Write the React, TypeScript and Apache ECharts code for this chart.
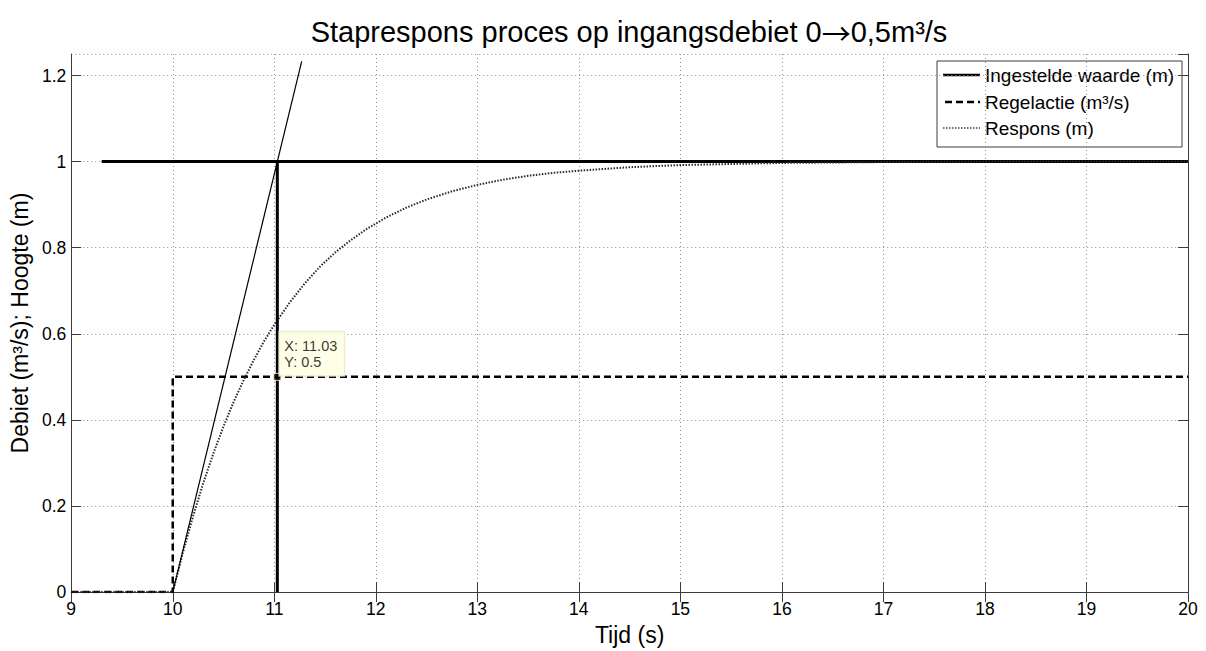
import React, { useEffect, useRef } from "react";
import * as echarts from "echarts";

const titlePart1 = "Staprespons proces op ingangsdebiet 0";
const titleArrow = "\u2192";
const titlePart2 = "0,5m\u00b3/s";
const xAxisName = "Tijd (s)";
const yAxisName = "Debiet (m\u00b3/s); Hoogte (m)";

const seriesNames = ["Ingestelde waarde (m)", "Regelactie (m\u00b3/s)", "Respons (m)"];

const setpointTime = [9.3, 20];
const setpointValue = [1, 1];

const regelTime = [9, 10, 10, 20];
const regelValue = [0, 0, 0.5, 0.5];

const responseTime = [9, 10, 10.1, 10.2, 10.3, 10.4, 10.5, 10.6, 10.7, 10.8, 10.9, 11, 11.15, 11.3, 11.45, 11.6, 11.75, 11.9, 12.1, 12.3, 12.5, 12.75, 13, 13.25, 13.5, 13.75, 14, 14.5, 15, 16, 17, 18, 19, 20];
const responseValue = [0, 0, 0.092, 0.176, 0.253, 0.322, 0.385, 0.442, 0.493, 0.540, 0.583, 0.621, 0.672, 0.717, 0.756, 0.789, 0.817, 0.842, 0.870, 0.893, 0.912, 0.931, 0.946, 0.958, 0.967, 0.974, 0.979, 0.987, 0.992, 0.997, 0.999, 1, 1, 1];

const tangentTime = [10, 11.27];
const tangentValue = [0, 1.233];

const markerTime = [11.03, 11.03];
const markerValue = [0, 1];

const tipX = 11.03;
const tipY = 0.5;

const xMin = 9, xMax = 20, xStep = 1;
const yMin = 0, yMax = 1.25, yStep = 0.2;

const zip = (a: number[], b: number[]) => a.map((v, i) => [v, b[i]]);

const FONT = "Liberation Sans, Arial, sans-serif";

export default function App() {
  const ref = useRef<HTMLDivElement>(null);
  useEffect(() => {
    if (!ref.current) return;
    const chart = echarts.init(ref.current, undefined, { renderer: "svg", width: 1206, height: 651 });
    const axisLine = { show: true, lineStyle: { color: "#3c3c3c", width: 1 } };
    const tick = { show: true, inside: true, length: 10, lineStyle: { color: "#3c3c3c" } };
    const legendX = 937, legendY = 61, legendW = 245, legendH = 86;
    const rows = [75, 102, 128];
    chart.setOption({
      animation: false,
      backgroundColor: "#ffffff",
      textStyle: { fontFamily: FONT },
      title: {
        text: `{a|${titlePart1}}{b|${titleArrow}}{a|${titlePart2}}`,
        left: 624,
        textAlign: "center",
        top: 12,
        textStyle: {
          fontFamily: FONT, fontSize: 29, fontWeight: "normal", color: "#000",
          rich: {
            a: { fontFamily: FONT, fontSize: 29, color: "#000" },
            b: { fontFamily: "Noto Sans CJK JP", fontSize: 29, color: "#000" },
          },
        },
      },
      grid: { left: 70, top: 54, width: 1118, height: 544, containLabel: false },
      xAxis: [
        {
          type: "value", min: xMin, max: xMax, interval: xStep,
          name: xAxisName, nameLocation: "middle", nameGap: 27,
          nameTextStyle: { fontFamily: FONT, fontSize: 23, color: "#000" },
          axisLine, axisTick: tick,
          axisLabel: { fontFamily: FONT, fontSize: 17.5, color: "#000", margin: 8 },
          splitLine: { show: true, lineStyle: { type: [1, 3], color: "#8c8c8c", width: 1 } },
        },
        {
          type: "value", min: xMin, max: xMax, interval: xStep, position: "top",
          axisLine, axisTick: tick, axisLabel: { show: false }, splitLine: { show: false },
        },
      ],
      yAxis: [
        {
          type: "value", min: yMin, max: yMax, interval: yStep,
          name: yAxisName, nameLocation: "middle", nameGap: 40,
          nameTextStyle: { fontFamily: FONT, fontSize: 23, color: "#000" },
          axisLine, axisTick: tick,
          axisLabel: { fontFamily: FONT, fontSize: 17.5, color: "#000", margin: 5, showMaxLabel: false,
            formatter: (v: number) => (Math.abs(v - yMax) < 1e-9 ? "" : String(Math.round(v * 10) / 10)) },
          splitLine: { show: true, lineStyle: { type: [1, 3], color: "#8c8c8c", width: 1 } },
        },
        {
          type: "value", min: yMin, max: yMax, interval: yStep, position: "right",
          axisLine, axisTick: tick, axisLabel: { show: false }, splitLine: { show: false },
        },
      ],
      series: [
        {
          name: seriesNames[0], type: "line", data: zip(setpointTime, setpointValue), symbol: "none",
          lineStyle: { color: "#000", width: 3 }, z: 3,
        },
        {
          name: seriesNames[1], type: "line", data: zip(regelTime, regelValue), symbol: "none",
          lineStyle: { color: "#000", width: 2.5, type: [7, 4] }, z: 3,
        },
        {
          name: seriesNames[2], type: "line", data: zip(responseTime, responseValue), symbol: "none",
          lineStyle: { color: "#2a2a2a", width: 2, type: [1.5, 1.5] }, z: 3,
        },
        {
          name: "tangent", type: "line", data: zip(tangentTime, tangentValue), symbol: "none",
          lineStyle: { color: "#000", width: 1.2 }, z: 4,
        },
        {
          name: "marker", type: "line", data: zip(markerTime, markerValue), symbol: "none",
          lineStyle: { color: "#000", width: 3 }, z: 4,
        },
        {
          name: "datatip", type: "scatter", data: [[tipX, tipY]], symbol: "rect", symbolSize: 7,
          itemStyle: { color: "#000", borderColor: "#ffffcc", borderWidth: 1 }, z: 10,
          label: {
            show: true, position: [6, -41],
            formatter: () => `X: ${tipX}\nY: ${tipY}`,
            fontFamily: FONT, fontSize: 14.5, lineHeight: 16, color: "#000",
            backgroundColor: "#ffffe1", borderColor: "#e4e4c4", borderWidth: 1, padding: [6, 7, 6, 5],
          },
        },
      ],
      graphic: [
        {
          type: "group", z: 100,
          children: [
            { type: "rect", shape: { x: legendX, y: legendY, width: legendW, height: legendH },
              style: { fill: "#fff", stroke: "#3c3c3c", lineWidth: 1 } },
            { type: "line", shape: { x1: 943, y1: rows[0], x2: 980, y2: rows[0] }, style: { stroke: "#000", lineWidth: 2.5 } },
            { type: "line", shape: { x1: 945, y1: rows[1], x2: 980, y2: rows[1] }, style: { stroke: "#000", lineWidth: 2.5, lineDash: [7, 4] } },
            { type: "line", shape: { x1: 943, y1: rows[2], x2: 980, y2: rows[2] }, style: { stroke: "#444", lineWidth: 1.5, lineDash: [1.5, 1.5] } },
            ...seriesNames.map((n, i) => ({
              type: "text", x: 985, y: rows[i],
              style: { text: n, fontFamily: FONT, fontSize: 19, fill: "#000", verticalAlign: "middle", align: "left" },
            })),
          ],
        },
      ],
    });
    return () => chart.dispose();
  }, []);
  return <div ref={ref} style={{ width: 1206, height: 651, position: "absolute", left: 0, top: 0 }} />;
}
